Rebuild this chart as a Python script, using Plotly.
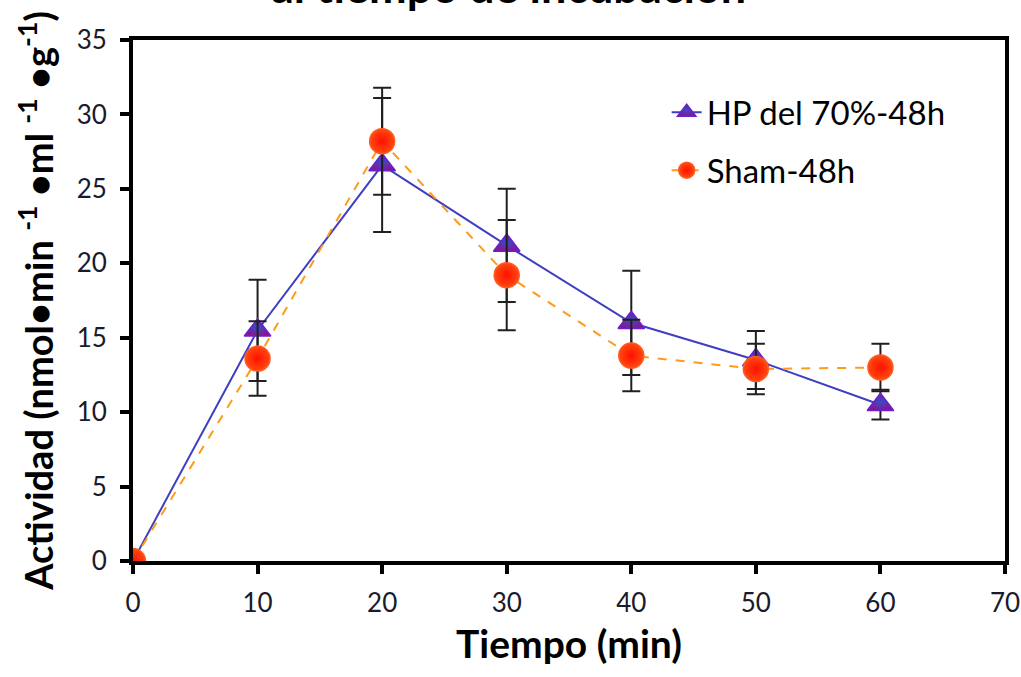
import plotly.graph_objects as go

tiempo = [0, 10, 20, 30, 40, 50, 60]
hp_vals = [0, 15.5, 26.6, 21.2, 16.0, 13.5, 10.5]
hp_err = [0, 3.4, 4.5, 3.8, 3.5, 1.95, 1.0]
sham_vals = [0, 13.6, 28.2, 19.2, 13.8, 12.9, 13.0]
sham_err = [0, 2.5, 3.6, 3.7, 2.4, 1.7, 1.6]

x_ticks = [0, 10, 20, 30, 40, 50, 60, 70]
y_ticks = [0, 5, 10, 15, 20, 25, 30, 35]

FONT = "Lato"

fig = go.Figure()

fig.add_trace(go.Scatter(
    x=tiempo, y=hp_vals, name="HP del 70%-48h", mode="lines+markers",
    line=dict(color="#3F3FC0", width=2),
    marker=dict(symbol="triangle-up", size=23, color="#8A1490",
                gradient=dict(type="radial", color="#3050C8"),
                line=dict(color="#6A20D0", width=1.5)),
    error_y=dict(type="data", array=hp_err, visible=True, color="#202020",
                 thickness=2, width=9),
    legendgroup="a",
))
fig.add_trace(go.Scatter(
    x=tiempo, y=sham_vals, name="Sham-48h", mode="lines+markers",
    line=dict(color="#FF9A1A", width=2, dash="dash"),
    marker=dict(symbol="circle", size=25, color="#FF4A10",
                gradient=dict(type="radial", color="#FF1000"),
                line=dict(color="#FF5A20", width=1.5)),
    error_y=dict(type="data", array=sham_err, visible=True, color="#202020",
                 thickness=2, width=9),
    legendgroup="b",
))

fig.add_annotation(
    text="<b>al tiempo de incubación</b>", xref="paper", yref="paper",
    x=(508 - 133) / 872, y=1 + 54 / 521, xanchor="center", yanchor="middle",
    showarrow=False, font=dict(family=FONT, size=45, color="black"),
)

fig.update_layout(
    width=1021, height=677,
    margin=dict(l=133, r=16, t=40, b=116, autoexpand=False),
    paper_bgcolor="white", plot_bgcolor="white",
    font=dict(family=FONT, color="black"),
    showlegend=True,
    legend=dict(x=0.612, y=0.915, xanchor="left", yanchor="top",
                font=dict(family=FONT, size=33, color="black"),
                bgcolor="rgba(0,0,0,0)", tracegroupgap=12),
    xaxis=dict(
        range=[0, 70], tickvals=x_ticks, ticks="outside", ticklen=9, tickwidth=4,
        tickcolor="black", showline=True, linecolor="black", linewidth=4,
        mirror=True, showgrid=False, zeroline=False, automargin=False,
        ticklabelstandoff=7,
        tickfont=dict(family=FONT, size=26, color="#1a1a2a"),
        title=dict(text="<b>Tiempo (min)</b>", font=dict(family=FONT, size=39),
                   standoff=14),
    ),
    yaxis=dict(
        range=[0, 35], tickvals=y_ticks, ticks="outside", ticklen=9, tickwidth=4,
        tickcolor="black", showline=True, linecolor="black", linewidth=4,
        mirror=True, showgrid=False, zeroline=False, automargin=False,
        ticklabelstandoff=8,
        tickfont=dict(family=FONT, size=26, color="#1a1a2a"),
        title=dict(text="<b>Actividad (nmol•min <sup>-1</sup> •ml <sup>-1</sup> •g<sup>-1</sup>)</b>",
                   font=dict(family=FONT, size=38), standoff=12),
    ),
)

fig.write_html("out.html")
